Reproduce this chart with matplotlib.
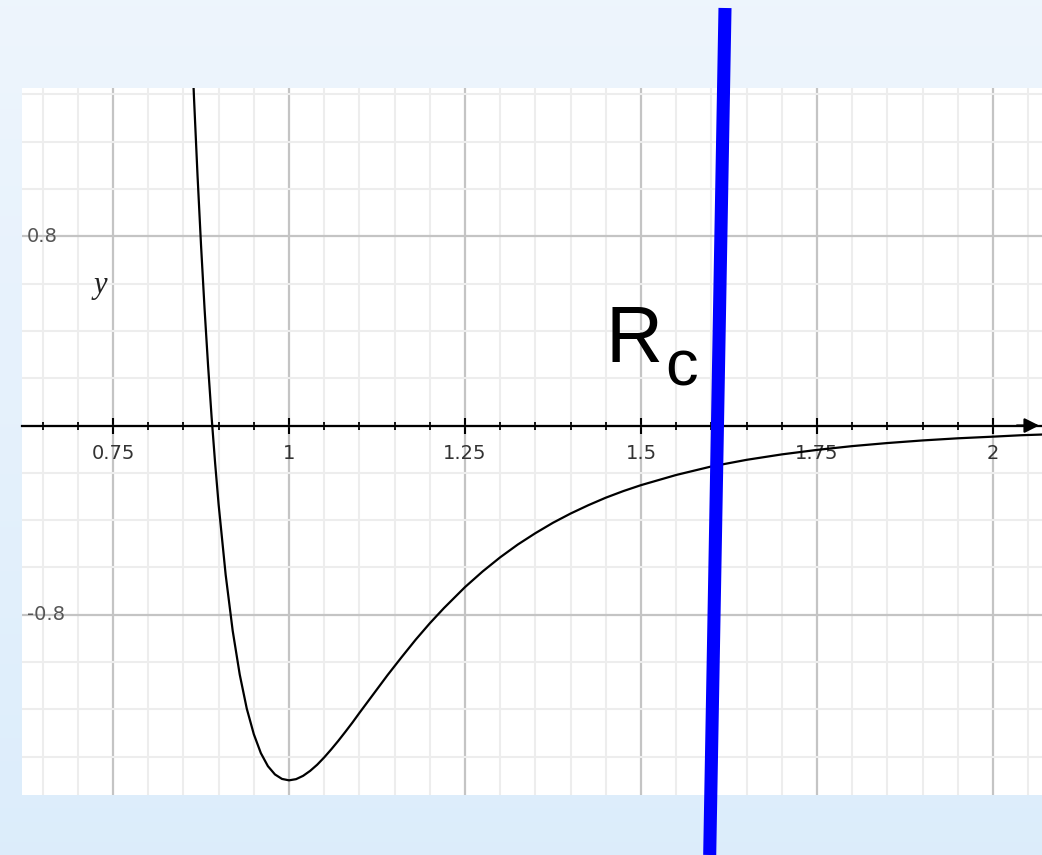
import numpy as np
import matplotlib.pyplot as plt
from matplotlib.ticker import MultipleLocator

# pair potential, points (r, V)
r_vals = [0.86, 0.865, 0.87, 0.875, 0.88, 0.885, 0.89, 0.895, 0.90, 0.91,
          0.92, 0.93, 0.94, 0.95, 0.96, 0.97, 0.98, 0.99, 1.00, 1.01,
          1.02, 1.03, 1.04, 1.05, 1.06, 1.07, 1.08, 1.09, 1.10, 1.12,
          1.13, 1.14, 1.16, 1.18, 1.20, 1.22, 1.25, 1.275, 1.30, 1.325,
          1.35, 1.375, 1.40, 1.425, 1.45, 1.475, 1.50, 1.55, 1.60, 1.65,
          1.70, 1.75, 1.80, 1.85, 1.90, 1.95, 2.00, 2.04, 2.08]
v_vals = [1.749, 1.387, 1.059, 0.763, 0.495, 0.254, 0.037, -0.158, -0.334, -0.631,
          -0.868, -1.053, -1.197, -1.305, -1.385, -1.440, -1.475, -1.494, -1.500, -1.495,
          -1.481, -1.460, -1.434, -1.403, -1.369, -1.333, -1.295, -1.256, -1.215, -1.135,
          -1.095, -1.055, -0.979, -0.905, -0.836, -0.772, -0.683, -0.617, -0.557, -0.503,
          -0.455, -0.411, -0.372, -0.337, -0.305, -0.277, -0.252, -0.209, -0.173, -0.145,
          -0.122, -0.103, -0.087, -0.074, -0.063, -0.054, -0.047, -0.041, -0.037]

x_labels = [0.75, 1, 1.25, 1.5, 1.75, 2]
y_labels = [0.8, -0.8]

fig = plt.figure(figsize=(10.42, 8.55), dpi=100)

# light blue slide background
bg = fig.add_axes([0, 0, 1, 1], zorder=-2)
grad = np.linspace(0, 1, 256)[:, None]
top = np.array([0.933, 0.961, 0.992])
bottom = np.array([0.863, 0.929, 0.984])
img = top[None, None, :] * (1 - grad[..., None]) + bottom[None, None, :] * grad[..., None]
bg.imshow(img, aspect='auto', extent=[0, 1, 0, 1])
bg.axis('off')

ax = fig.add_axes([22 / 1042, 1 - 795 / 855, 1 - 22 / 1042, (795 - 88) / 855])
ax.set_facecolor('white')
ax.set_xlim(0.6207, 2.0696)
ax.set_ylim(-1.562, 1.427)

# grid
ax.xaxis.set_major_locator(MultipleLocator(0.25))
ax.xaxis.set_minor_locator(MultipleLocator(0.05))
ax.yaxis.set_major_locator(MultipleLocator(0.8))
ax.yaxis.set_minor_locator(MultipleLocator(0.2))
ax.grid(which='minor', color='#ededed', lw=1.5)
ax.grid(which='major', color='#c4c4c4', lw=1.6)
ax.set_axisbelow(True)

for s in ['left', 'right', 'top']:
    ax.spines[s].set_visible(False)
ax.spines['bottom'].set_position(('data', 0))
ax.spines['bottom'].set_linewidth(1.6)
ax.spines['bottom'].set_zorder(3)
ax.tick_params(axis='y', which='both', length=0, labelleft=False)
ax.tick_params(axis='x', which='major', direction='inout', length=11, width=1.5,
               labelsize=14, labelcolor='#333333', pad=8)
ax.tick_params(axis='x', which='minor', direction='inout', length=6, width=1.3)
ax.set_xticks(x_labels)
ax.set_xticklabels([str(v) for v in x_labels], family='DejaVu Sans')

# arrow at the end of the r axis
ax.annotate('', xy=(2.0696, 0), xytext=(2.03, 0),
            arrowprops=dict(arrowstyle='-|>', color='black', lw=1.6, mutation_scale=22),
            annotation_clip=False, zorder=4)

for v in y_labels:
    ax.text(0.628, v, str(v), fontsize=14, color='#555555', va='center', ha='left', zorder=1)

ax.text(0.7315, 0.594, 'y', fontsize=22, family='Liberation Serif', style='italic',
        color='#222222', ha='center', va='center')

ax.plot(r_vals, v_vals, color='black', lw=1.6, zorder=5, solid_joinstyle='round')

# cutoff radius marker
fig.add_artist(plt.Line2D([725 / 1042, 709.7 / 1042], [1 - 8 / 855, 0],
                          transform=fig.transFigure, color='#0000ff', lw=9.4,
                          solid_capstyle='butt', zorder=10))
fig.text(606 / 1042, 1 - 362 / 855, 'R', fontsize=57, family='Liberation Sans',
         ha='left', va='baseline', zorder=11)
fig.text(665 / 1042, 1 - 385 / 855, 'c', fontsize=47, family='Liberation Sans',
         ha='left', va='baseline', zorder=11)

fig.savefig('out.png', dpi=100)
